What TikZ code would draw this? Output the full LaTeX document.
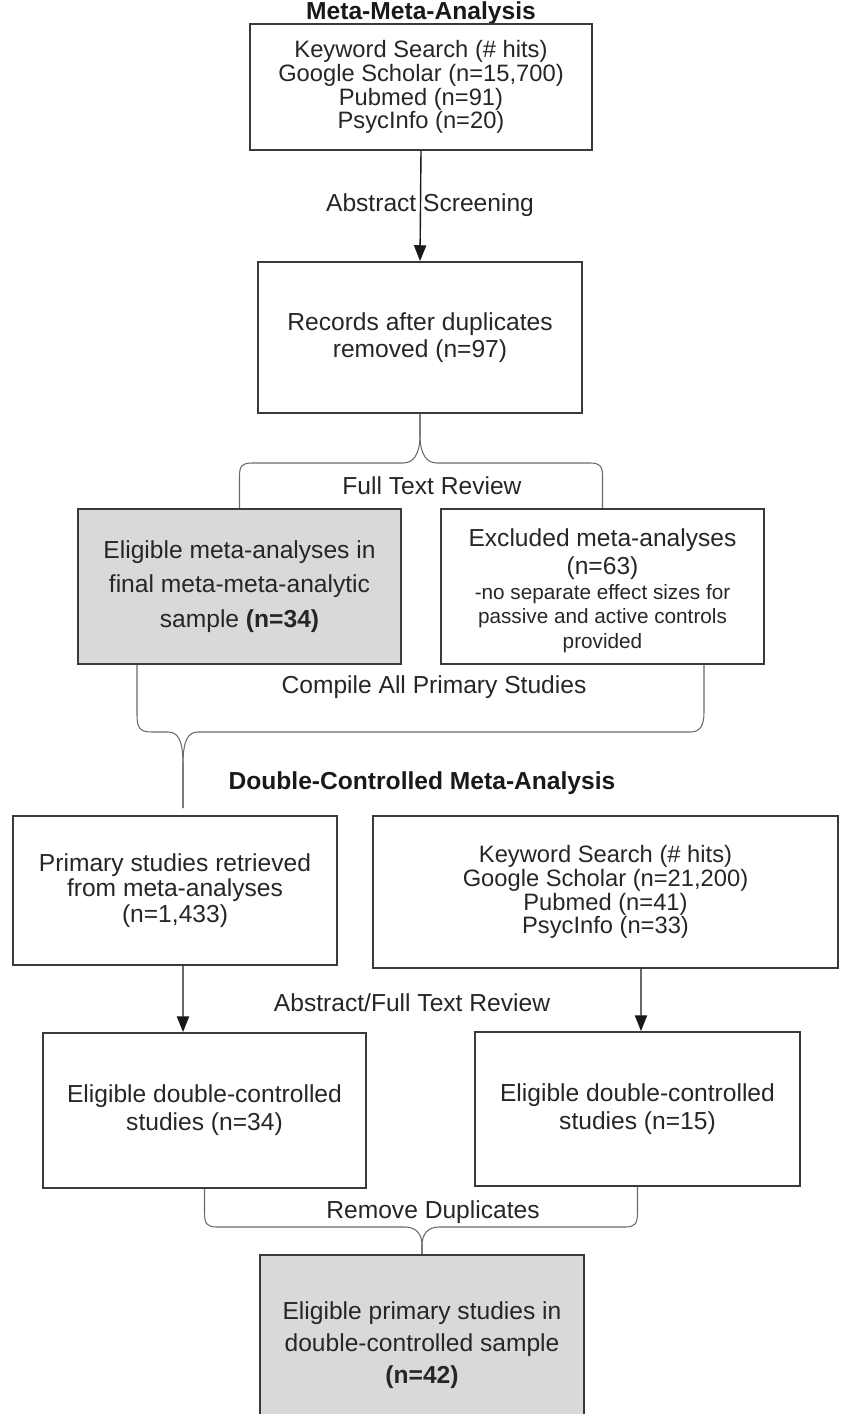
\documentclass[tikz,border=0pt]{standalone}
\usepackage{fontspec}
\setmainfont{Liberation Sans}
\usetikzlibrary{arrows.meta}
\definecolor{boxline}{HTML}{3A3A3A}
\definecolor{braceline}{HTML}{6A6A6A}
\definecolor{samplefill}{HTML}{D9D9D9}
\newcommand{\notefont}{\fontsize{11.8}{13.6}\selectfont}
\tikzset{
  stagebox/.style={draw=boxline, line width=1.1pt, align=center, inner sep=0pt, text=black!85},
  samplebox/.style={stagebox, fill=samplefill},
  brace/.style={draw=braceline, line width=0.6pt},
  flow/.style={draw=black!90, line width=0.8pt, -{Triangle[length=9pt,width=7pt]}},
  steplabel/.style={font=\fontsize{14}{16}\selectfont, text=black!85},
  heading/.style={font=\bfseries\fontsize{14}{16}\selectfont, text=black!90},
}
\begin{document}
\begin{tikzpicture}[x=0.02cm, y=-0.02cm]
  \useasboundingbox (0,0) rectangle (841,1414);
  \clip (0,0) rectangle (841,1414);
  % meta-meta-analysis
  \node[heading, anchor=base, inner sep=0pt] (mmtitle) at (421,19.5) {Meta-Meta-Analysis};
  \node[stagebox, minimum width=6.84cm, minimum height=2.52cm, font=\fontsize{13.5}{13.6}\selectfont] (kw1) at (421,87)
    {Keyword Search (\# hits)\\Google Scholar (n=15,700)\\Pubmed (n=91)\\PsycInfo (n=20)};
  \node[stagebox, minimum width=6.48cm, minimum height=3.02cm, font=\fontsize{14}{15.3}\selectfont] (rec) at (420,337.5)
    {Records after duplicates\\removed (n=97)};
  \node[samplebox, minimum width=6.46cm, minimum height=3.10cm, font=\fontsize{14}{19.5}\selectfont] (elig) at (239.5,586.5)
    {Eligible meta-analyses in\\final meta-meta-analytic\\sample \textbf{(n=34)}};
  \node[stagebox, minimum width=6.46cm, minimum height=3.10cm, font=\fontsize{14}{15.9}\selectfont] (excl) at (602.5,586.5)
    {\rule{0pt}{15pt}Excluded meta-analyses\\(n=63)\\[-2pt]
     {\notefont -no separate effect sizes for}\\[-2pt]{\notefont passive and active controls}\\[-2pt]{\notefont provided}};
  \node[steplabel] (abs) at (430,205) {Abstract Screening};
  \node[steplabel] (ftr) at (432,486) {Full Text Review};
  \node[steplabel] (comp) at (434,687) {Compile All Primary Studies};
  \draw[flow] (kw1.south) -- (rec.north);
  \draw[brace] (elig.north) -- (239.5,476) .. controls (239.5,466) and (242,463) .. (252,463) -- (403,463)
    .. controls (413,463) and (420,455) .. (420,435) -- (rec.south);
  \draw[brace] (rec.south) -- (420,435) .. controls (420,455) and (427,463) .. (437,463) -- (590,463)
    .. controls (600,463) and (602.5,466) .. (602.5,476) -- (excl.north);
  % double-controlled meta-analysis
  \node[heading] (dctitle) at (422,783) {Double-Controlled Meta-Analysis};
  \coordinate (dctip) at (183,808);
  \draw[brace] ([xshift=-2.05cm]elig.south) -- (137,715) .. controls (137,728) and (140,732) .. (152,732) -- (168,732)
    .. controls (178,732) and (183,740) .. (183,765) -- (dctip);
  \draw[brace] (dctip) -- (183,765) .. controls (183,740) and (188,732) .. (198,732) -- (690,732)
    .. controls (700,732) and (704,726) .. (704,712) -- ([xshift=2.03cm]excl.south);
  \node[stagebox, minimum width=6.48cm, minimum height=2.98cm, font=\fontsize{14}{14.3}\selectfont] (prim) at (175,890.5)
    {Primary studies retrieved\\from meta-analyses\\(n=1,433)};
  \node[stagebox, minimum width=9.30cm, minimum height=3.04cm, font=\fontsize{13.5}{13.6}\selectfont] (kw2) at (605.5,892)
    {Keyword Search (\# hits)\\Google Scholar (n=21,200)\\Pubmed (n=41)\\PsycInfo (n=33)};
  \node[steplabel] (aftr) at (412,1003) {Abstract/Full Text Review};
  \node[stagebox, minimum width=6.46cm, minimum height=3.10cm, font=\fontsize{14}{15.9}\selectfont] (dc1) at (204.5,1110.5)
    {Eligible double-controlled\\studies (n=34)};
  \node[stagebox, minimum width=6.50cm, minimum height=3.08cm, font=\fontsize{14}{15.9}\selectfont] (dc2) at (637.5,1109)
    {Eligible double-controlled\\studies (n=15)};
  \draw[flow] ([xshift=0.16cm]prim.south) -- ([xshift=-0.43cm]dc1.north);
  \draw[flow] ([xshift=0.71cm]kw2.south) -- ([xshift=0.07cm]dc2.north);
  \node[steplabel] (dup) at (433,1212) {Remove Duplicates};
  \node[samplebox, minimum width=6.48cm, minimum height=3.60cm, font=\fontsize{14}{18}\selectfont] (fin) at (422,1345)
    {Eligible primary studies in\\double-controlled sample\\\textbf{(n=42)}};
  \draw[brace] (dc1.south) -- (204.5,1212) .. controls (204.5,1224) and (207,1227) .. (217,1227) -- (405,1227)
    .. controls (415,1227) and (422,1233) .. (422,1245) -- (fin.north);
  \draw[brace] (fin.north) -- (422,1245) .. controls (422,1233) and (429,1227) .. (439,1227) -- (625,1227)
    .. controls (635,1227) and (637.5,1224) .. (637.5,1212) -- (dc2.south);
\end{tikzpicture}
\end{document}
